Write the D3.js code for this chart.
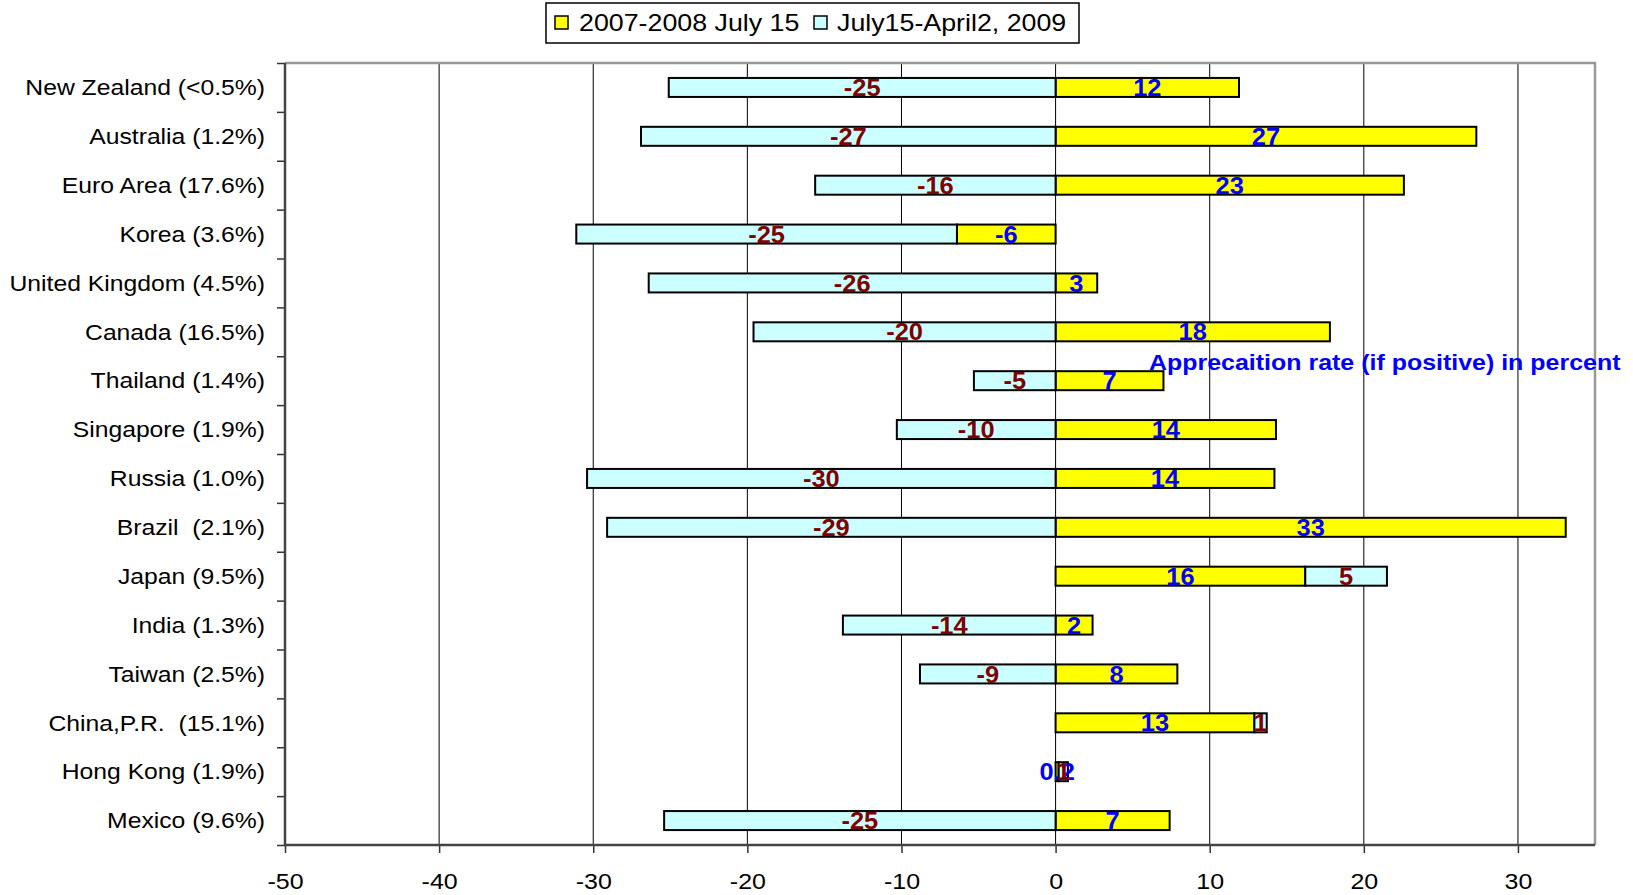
<!DOCTYPE html>
<html>
<head>
<meta charset="utf-8">
<script src="https://cdn.jsdelivr.net/npm/d3@7"></script>
<style>
  html, body { margin: 0; padding: 0; background: #ffffff; }
  svg { display: block; font-family: "Liberation Sans", Arial, sans-serif; }
  text { white-space: pre; }
</style>
</head>
<body>
<svg id="chart" width="1633" height="895"></svg>
<script>
// Exchange-rate changes by economy (share of trade in parentheses)
const categories = [
  "New Zealand (<0.5%)", "Australia (1.2%)", "Euro Area (17.6%)", "Korea (3.6%)",
  "United Kingdom (4.5%)", "Canada (16.5%)", "Thailand (1.4%)", "Singapore (1.9%)",
  "Russia (1.0%)", "Brazil  (2.1%)", "Japan (9.5%)", "India (1.3%)",
  "Taiwan (2.5%)", "China,P.R.  (15.1%)", "Hong Kong (1.9%)", "Mexico (9.6%)"
];
const seriesNames = ["2007-2008 July 15", "July15-April2, 2009"];
const period1 = [11.9, 27.3, 22.6, -6.4, 2.7, 17.8, 7.0, 14.3, 14.2, 33.1, 16.2, 2.4, 7.9, 12.9, 0.2, 7.4];
const period2 = [-25.1, -26.9, -15.6, -24.7, -26.4, -19.6, -5.3, -10.3, -30.4, -29.1, 5.3, -13.8, -8.8, 0.8, 0.6, -25.4];
const xTicks = [-50, -40, -30, -20, -10, 0, 10, 20, 30];
const xDomain = [-50, 35];
const note = "Apprecaition rate (if positive) in percent";

const keys = ["s0", "s1"];
const fills = ["#ffff00", "#ccffff"];
const labelColors = ["#0000ff", "#800000"];
const stretch = 1.15;

const plot = { left: 285, right: 1595, top: 63, bottom: 845 };
const svg = d3.select("#chart");

const x = d3.scaleLinear().domain(xDomain).range([plot.left, plot.right]);
const y = d3.scaleBand().domain(categories).range([plot.top, plot.bottom])
  .paddingInner(0.6).paddingOuter(0.3);
const yEdge = d3.scaleLinear().domain([0, categories.length]).range([plot.top, plot.bottom]);

const rows = categories.map((c, i) => ({ cat: c, s0: period1[i], s1: period2[i] }));
const stacked = d3.stack().keys(keys).offset(d3.stackOffsetDiverging)(rows);

// vertical gridlines
svg.append("g").selectAll("line").data(xTicks.filter(t => t > xDomain[0]))
  .join("line")
  .attr("x1", d => x(d)).attr("x2", d => x(d))
  .attr("y1", plot.top).attr("y2", plot.bottom)
  .attr("stroke", "#000").attr("stroke-width", 1);

// plot frame (top and right)
svg.append("path")
  .attr("d", `M${plot.left},${plot.top}H${plot.right}V${plot.bottom}`)
  .attr("fill", "none").attr("stroke", "#999").attr("stroke-width", 2.5);

// stacked bars
const barH = 19;
stacked.forEach((layer, k) => {
  svg.append("g").selectAll("rect").data(layer).join("rect")
    .attr("x", d => x(Math.min(d[0], d[1])))
    .attr("width", d => Math.abs(x(d[1]) - x(d[0])))
    .attr("y", d => y(d.data.cat) + (y.bandwidth() - barH) / 2)
    .attr("height", barH)
    .attr("fill", fills[k]).attr("stroke", "#000").attr("stroke-width", 2);
});

// axes
const xAxis = svg.append("g").attr("transform", `translate(0,${plot.bottom})`)
  .call(d3.axisBottom(x).tickValues(xTicks).tickSize(8).tickSizeOuter(0).tickFormat(d => String(d)));
xAxis.select(".domain").remove();
xAxis.selectAll(".tick line").attr("stroke", "#333").attr("stroke-width", 1.5);
xAxis.selectAll(".tick text")
  .attr("y", 44).attr("dy", null)
  .attr("transform", `scale(${stretch},1)`)
  .attr("fill", "#000").style("font-size", "21.7px").style("font-family", "Liberation Sans, Arial, sans-serif");

const yTickAxis = svg.append("g").attr("transform", `translate(${plot.left},0)`)
  .call(d3.axisLeft(yEdge).tickValues(d3.range(categories.length + 1))
    .tickSize(8).tickFormat(""));
yTickAxis.select(".domain").remove();
yTickAxis.selectAll(".tick line").attr("stroke", "#333").attr("stroke-width", 1.5);

const yAxis = svg.append("g").attr("transform", `translate(${plot.left},0)`)
  .call(d3.axisLeft(y).tickSize(0).tickPadding(0));
yAxis.select(".domain").remove();
yAxis.selectAll(".tick text")
  .attr("x", 0)
  .attr("transform", `translate(-20,0) scale(${stretch},1)`)
  .attr("dy", "0.36em")
  .attr("fill", "#000").style("font-size", "21.5px").style("font-family", "Liberation Sans, Arial, sans-serif");

// axis lines (left and bottom)
svg.append("path")
  .attr("d", `M${plot.left},${plot.top}V${plot.bottom}H${plot.right}`)
  .attr("fill", "none").attr("stroke", "#444").attr("stroke-width", 2.5);

// value labels, centred on each segment
const fmt = v => Math.round(v) === 0 ? v.toFixed(1) : String(Math.round(v));
stacked.forEach((layer, k) => {
  svg.append("g").selectAll("g").data(layer).join("g")
    .attr("transform", d => `translate(${x((d[0] + d[1]) / 2)},${y(d.data.cat) + y.bandwidth() / 2}) scale(1.06,1)`)
    .append("text")
    .attr("text-anchor", "middle").attr("dy", "0.36em")
    .attr("fill", labelColors[k])
    .style("font-size", "24px").style("font-weight", "bold")
    .text(d => fmt(d.data[keys[k]]));
});

// note
svg.append("g").attr("transform", `translate(1149,370) scale(1.11,1)`)
  .append("text")
  .attr("fill", "#0000ff").style("font-size", "22.5px").style("font-weight", "bold")
  .text(note);

// legend
const lg = svg.append("g");
lg.append("rect").attr("x", 546).attr("y", 3).attr("width", 533).attr("height", 40)
  .attr("fill", "#fff").attr("stroke", "#000").attr("stroke-width", 1.5);
const legendPos = [{ sx: 555, tx: 579 }, { sx: 814, tx: 837 }];
seriesNames.forEach((name, k) => {
  lg.append("rect").attr("x", legendPos[k].sx).attr("y", 16).attr("width", 13).attr("height", 13)
    .attr("fill", fills[k]).attr("stroke", "#000").attr("stroke-width", 1.5);
  lg.append("g").attr("transform", `translate(${legendPos[k].tx},31) scale(${stretch},1)`)
    .append("text").attr("fill", "#000").style("font-size", "23.3px").text(name);
});
</script>
</body>
</html>
